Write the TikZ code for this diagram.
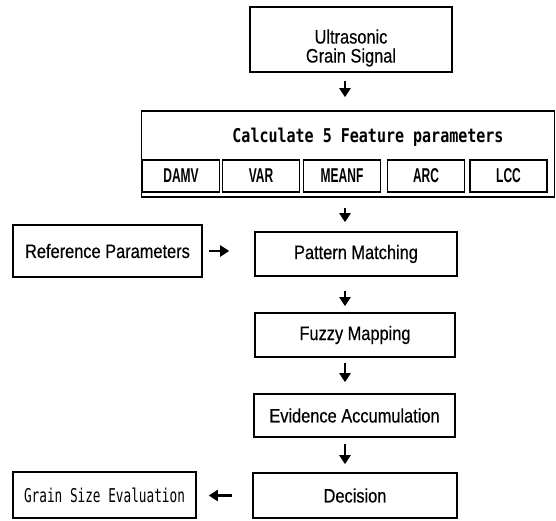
\documentclass[tikz,border=0pt]{standalone}
\usepackage{fontspec}
\setmainfont{Liberation Sans}[FakeStretch=0.84,FakeBold=0.4]
\newfontfamily\parfont{Liberation Sans}[FakeStretch=0.6]
\newfontfamily\monoA{DejaVu Sans Mono}[FakeStretch=0.79]
\newfontfamily\monoB{DejaVu Sans Mono}[FakeStretch=0.67]
\usetikzlibrary{arrows.meta}
\begin{document}
\begin{tikzpicture}[x=1pt,y=-1pt,
  box/.style={draw, line width=1.6pt, inner sep=0pt},
  txt/.style={font=\fontsize{19.5}{19}\selectfont},
  pbox/.style={box, minimum width=77pt, minimum height=32pt, font=\parfont\bfseries\fontsize{20}{20}\selectfont},
  arr/.style={line width=2.6pt, -{Triangle[length=9pt,width=11pt]}},
]
\useasboundingbox (0,0) rectangle (556,520);

% Ultrasonic grain signal
\node[box, minimum width=202pt, minimum height=65pt] (us) at (351,39.5) {};
\node[txt, align=center] (ust) at (351,48) {Ultrasonic\\Grain Signal};

% Calculate 5 feature parameters
\node[box, minimum width=413pt, minimum height=86pt] (calc) at (348,154) {};
\node[font=\monoA\bfseries\fontsize{19}{19}\selectfont, anchor=base] (title) at (368,142) {Calculate 5 Feature parameters};
\node[pbox] (damv) at (181,176) {DAMV};
\node[pbox] (var) at (261,176) {VAR};
\node[pbox] (meanf) at (342,176) {MEANF};
\node[pbox] (arc) at (426,176) {ARC};
\node[pbox] (lcc) at (508.5,176) {LCC};

% Flow boxes
\node[box, txt, minimum width=189pt, minimum height=52pt] (ref) at (107.5,251) {Reference Parameters};
\node[box, txt, minimum width=202pt, minimum height=44pt] (pm) at (356,254) {Pattern Matching};
\node[box, txt, minimum width=200pt, minimum height=44pt] (fz) at (355,335) {Fuzzy Mapping};
\node[box, txt, minimum width=201pt, minimum height=43pt] (ev) at (354.5,415.5) {Evidence Accumulation};
\node[box, txt, minimum width=204pt, minimum height=45pt] (dec) at (355,495.5) {Decision};
\node[box, minimum width=183pt, minimum height=46pt, font=\monoB\fontsize{19}{19}\selectfont] (gse) at (104.5,495) {Grain Size Evaluation};

% Arrows
\coordinate (ax) at (345,0);
\draw[arr, shorten <=8pt, shorten >=13pt] (us.south -| ax) -- (calc.north -| ax);
\draw[arr, shorten <=10pt, shorten >=9pt] (calc.south -| ax) -- (pm.north -| ax);
\draw[arr, shorten <=14pt, shorten >=6pt] (pm.south -| ax) -- (fz.north -| ax);
\draw[arr, shorten <=5pt, shorten >=11pt] (fz.south -| ax) -- (ev.north -| ax);
\draw[arr, shorten <=6pt, shorten >=8pt] (ev.south -| ax) -- (dec.north -| ax);
\draw[arr, shorten <=6pt, shorten >=25pt] (ref.east) -- (ref.east -| pm.west);
\draw[arr, shorten <=20pt, shorten >=12pt] (dec.west) -- (dec.west -| gse.east);
\end{tikzpicture}
\end{document}
